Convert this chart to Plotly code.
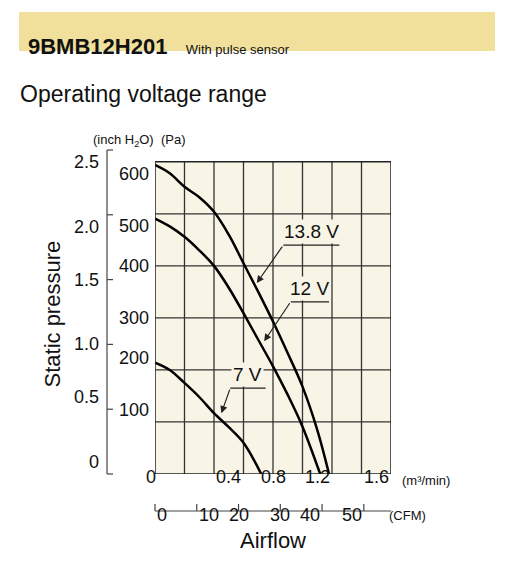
import plotly.graph_objects as go

# fan curves, airflow in m3/min, static pressure in Pa
q_138 = [0, 0.1, 0.2, 0.3, 0.4, 0.5, 0.6, 0.7, 0.8, 0.9, 1.0, 1.1, 1.18]
p_138 = [594, 578, 552, 532, 504, 460, 405, 350, 293, 232, 168, 85, 0]
q_12 = [0, 0.1, 0.2, 0.3, 0.4, 0.5, 0.6, 0.7, 0.8, 0.9, 1.0, 1.12]
p_12 = [491, 476, 456, 430, 400, 358, 309, 258, 207, 152, 91, 0]
q_7 = [0, 0.1, 0.2, 0.3, 0.4, 0.5, 0.6, 0.72]
p_7 = [214, 200, 175, 148, 117, 90, 60, 0]

pa_ticks = [100, 200, 300, 400, 500, 600]
inch_ticks = [0, 0.5, 1.0, 1.5, 2.0, 2.5]
inch_labels = ["0", "0.5", "1.0", "1.5", "2.0", "2.5"]
m3_ticks = [0.4, 0.8, 1.2, 1.6]
cfm_ticks = [0, 10, 20, 30, 40, 50]

PA_PER_INCH = 249.09
M3_PER_CFM = 0.028317
YMAX = 2.5 * PA_PER_INCH
FONT = "Liberation Sans Narrow, Liberation Sans, sans-serif"
BG = "#f8f5e6"

# plot area in window pixels: x 155..391, y 150..474 (page body adds 8px offset)
L, R, T, B = 155, 391, 150, 474
W, H = R - L, B - T


def px(x):
    return (x - L) / W


def py(y):
    return (B - y) / H


def qx(q):
    return q / 1.6


def pay(p):
    return p / YMAX


fig = go.Figure()
for q, p in [(q_138, p_138), (q_12, p_12), (q_7, p_7)]:
    fig.add_trace(go.Scatter(x=q, y=p, mode="lines", line=dict(color="black", width=2.5, shape="spline"),
                             showlegend=False, hoverinfo="skip"))

shapes = []
P = dict(xref="paper", yref="paper")
shapes.append(dict(type="rect", xref="x", yref="y", x0=0, x1=1.6, y0=0, y1=600,
                   fillcolor=BG, line=dict(width=0), layer="below"))
for i in range(1, 8):
    shapes.append(dict(type="line", xref="x", yref="y", x0=i * 0.2, x1=i * 0.2, y0=0, y1=600,
                       line=dict(color="#333", width=1.3), layer="below"))
for v in range(100, 600, 100):
    shapes.append(dict(type="line", xref="x", yref="y", x0=0, x1=1.6, y0=v, y1=v,
                       line=dict(color="#333", width=1.3), layer="below"))
shapes.append(dict(type="rect", xref="x", yref="y", x0=0, x1=1.6, y0=0, y1=600,
                   line=dict(color="#222", width=1.5)))
# header bar
shapes.append(dict(type="rect", **P, x0=px(19), x1=px(495), y0=py(51), y1=py(12),
                   fillcolor="#f0e09c", line=dict(width=0)))

# inch axis
shapes.append(dict(type="line", **P, x0=px(107), x1=px(107), y0=0, y1=pay(YMAX),
                   line=dict(color="#444", width=1.2)))
for v in inch_ticks:
    shapes.append(dict(type="line", **P, x0=px(107), x1=px(113),
                       y0=pay(v * PA_PER_INCH), y1=pay(v * PA_PER_INCH), line=dict(color="#444", width=1.2)))
# CFM axis
shapes.append(dict(type="line", **P, x0=0, x1=1, y0=py(511), y1=py(511),
                   line=dict(color="#444", width=1.2)))
for c in cfm_ticks:
    xc = qx(c * M3_PER_CFM)
    shapes.append(dict(type="line", **P, x0=xc, x1=xc, y0=py(511), y1=py(504),
                       line=dict(color="#444", width=1.2)))

# voltage labels: underline + leader
labels = [("13.8 V", 1.06, 0.87, 1.25, 440, 0.69, 367),
          ("12 V", 1.05, 0.92, 1.18, 331, 0.74, 255),
          ("7 V", 0.63, 0.51, 0.75, 165, 0.45, 117)]
ann = []
for txt, tx, u0, u1, uy, ax2, ay2 in labels:
    ann.append(dict(x=tx, y=uy, xref="x", yref="y", text=txt, showarrow=False, yanchor="bottom",
                    yshift=1, bgcolor=BG, font=dict(size=19, family="Liberation Sans")))
    shapes.append(dict(type="line", xref="x", yref="y", x0=u0, x1=u1, y0=uy, y1=uy,
                       line=dict(color="#222", width=1.2)))
    ann.append(dict(x=ax2, y=ay2, ax=u0, ay=uy, axref="x", ayref="y", xref="x", yref="y",
                    text="", showarrow=True, arrowhead=2, arrowsize=1.2, arrowwidth=1.2, arrowcolor="#222"))

for v in pa_ticks:
    ann.append(dict(x=px(151), y=pay(v), **P, text=str(v), showarrow=False, xanchor="right",
                    font=dict(size=18, family=FONT)))
for v, t in zip(inch_ticks, inch_labels):
    ann.append(dict(x=px(101), y=pay(v * PA_PER_INCH), **P, text=t, showarrow=False,
                    xanchor="right", font=dict(size=18, family=FONT)))
ann.append(dict(x=px(144), y=py(489), **P, text="0", showarrow=False, font=dict(size=18, family=FONT)))
for v in m3_ticks:
    ann.append(dict(x=qx(v), y=py(489), **P, text=f"{v:.1f}", showarrow=False,
                    font=dict(size=18, family=FONT)))
for c in cfm_ticks:
    ann.append(dict(x=qx(c * M3_PER_CFM), y=py(527), **P, text=str(c), showarrow=False,
                    font=dict(size=18, family=FONT)))
ann.append(dict(x=px(400), y=py(490), **P, text="(m³/min)", showarrow=False, xanchor="left",
                font=dict(size=13)))
ann.append(dict(x=px(428), y=py(525), **P, text="(CFM)", showarrow=False, font=dict(size=13)))
ann.append(dict(x=px(273), y=py(555), **P, text="Airflow", showarrow=False, font=dict(size=22)))
ann.append(dict(x=px(37), y=py(314), **P, text="Static pressure", showarrow=False, textangle=-90,
                font=dict(size=22)))
ann.append(dict(x=px(91), y=py(130), **P, text="(inch H<sub>2</sub>O)  (Pa)", showarrow=False,
                font=dict(size=13)))
ann.append(dict(x=px(26), y=py(32), **P, xanchor="left", showarrow=False,
                text="<b>9BMB12H201</b>   <span style='font-size:13px'>With pulse sensor</span>",
                font=dict(size=22, family="Liberation Sans")))
ann.append(dict(x=px(18), y=py(79), **P, xanchor="left", showarrow=False,
                text="Operating voltage range", font=dict(size=23)))

fig.update_layout(
    width=532, height=581,
    margin=dict(l=L - 8, r=532 - R + 8, t=T - 8, b=581 - B + 8),
    paper_bgcolor="white", plot_bgcolor="rgba(0,0,0,0)",
    font=dict(family="Liberation Sans, sans-serif", color="#111"),
    xaxis=dict(range=[0, 1.6], visible=False, fixedrange=True),
    yaxis=dict(range=[0, YMAX], visible=False, fixedrange=True),
    shapes=shapes, annotations=ann,
)
fig.write_html("out.html")
